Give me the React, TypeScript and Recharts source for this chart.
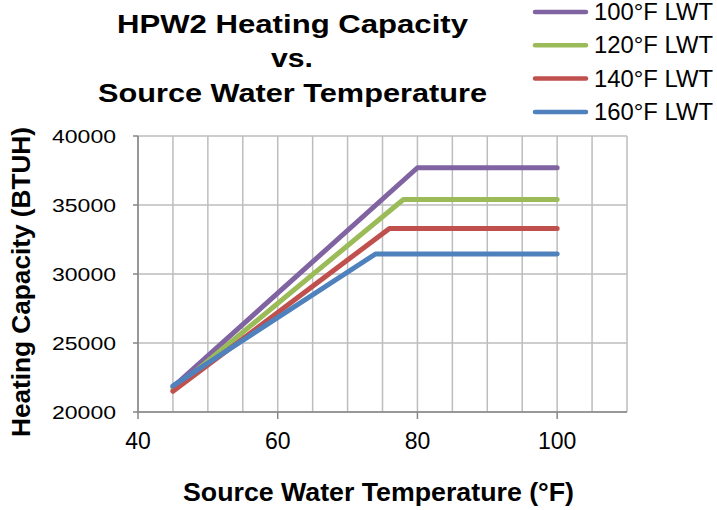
import React from 'react';
import { LineChart, Line, XAxis, YAxis, CartesianGrid } from 'recharts';

// series data
const seriesNames = ['100°F LWT', '120°F LWT', '140°F LWT', '160°F LWT'];
const seriesColors = ['#8064A2', '#9BBB59', '#C0504D', '#4F81BD'];

const temps100 = [45, 80, 100];
const btuh100 = [21800, 37700, 37700];
const temps120 = [45, 78, 100];
const btuh120 = [21600, 35400, 35400];
const temps140 = [45, 76, 100];
const btuh140 = [21500, 33300, 33300];
const temps160 = [45, 74, 100];
const btuh160 = [21900, 31450, 31450];

const xTicks = [40, 45, 50, 55, 60, 65, 70, 75, 80, 85, 90, 95, 100, 105, 110];
const xLabelTicks = [40, 60, 80, 100];
const yTicks = [20000, 25000, 30000, 35000, 40000];

const titleLines = ['HPW2 Heating Capacity', 'vs.', 'Source Water Temperature'];
const xTitle = 'Source Water Temperature (°F)';
const yTitle = 'Heating Capacity (BTUH)';

const toPoints = (xs: number[], ys: number[]) => xs.map((x, i) => ({ x, y: ys[i] }));

const series = [
  toPoints(temps100, btuh100),
  toPoints(temps120, btuh120),
  toPoints(temps140, btuh140),
  toPoints(temps160, btuh160),
];

const FONT = '"Liberation Sans", Arial, sans-serif';
const AXIS_GRAY = '#868686';

const XTick = (props: any) => {
  const { x, y, payload } = props;
  if (!xLabelTicks.includes(payload.value)) return null;
  return (
    <g>
      <line x1={x} x2={x} y1={y} y2={y + 7} stroke={AXIS_GRAY} strokeWidth={1.5} />
      <text x={x} y={y + 37} textAnchor="middle" fontSize={23} fontFamily={FONT} fill="#000">
        {payload.value}
      </text>
    </g>
  );
};

const YTick = (props: any) => {
  const { x, y, payload } = props;
  return (
    <g>
      <line x1={x - 5} x2={x} y1={y} y2={y} stroke={AXIS_GRAY} strokeWidth={1.5} />
      <text
        x={x - 86}
        y={y + 7}
        fontSize={19}
        fontFamily={FONT}
        fill="#000"
        textLength={64}
        lengthAdjust="spacingAndGlyphs"
      >
        {payload.value}
      </text>
    </g>
  );
};

export default function App() {
  return (
    <div style={{ position: 'absolute', left: 0, top: 0, width: 717, height: 510, background: '#fff' }}>
      <LineChart width={717} height={510} margin={{ top: 136, right: 90, bottom: 0, left: 0 }}>
        <CartesianGrid stroke="#bdbdbd" strokeWidth={1.5} />
        <XAxis
          type="number"
          dataKey="x"
          domain={[40, 110]}
          ticks={xTicks}
          interval={0}
          height={98}
          tickSize={0}
          tickMargin={0}
          tickLine={false}
          axisLine={{ stroke: AXIS_GRAY, strokeWidth: 1.5 }}
          tick={<XTick />}
        />
        <YAxis
          type="number"
          domain={[20000, 40000]}
          ticks={yTicks}
          interval={0}
          width={138}
          tickSize={0}
          tickMargin={0}
          tickLine={false}
          axisLine={{ stroke: AXIS_GRAY, strokeWidth: 1.5 }}
          tick={<YTick />}
        />
        {series.map((pts, i) => (
          <Line
            key={seriesNames[i]}
            name={seriesNames[i]}
            data={pts}
            dataKey="y"
            type="linear"
            stroke={seriesColors[i]}
            strokeWidth={5}
            strokeLinecap="round"
            strokeLinejoin="round"
            dot={false}
            activeDot={false}
            isAnimationActive={false}
          />
        ))}
      </LineChart>

      {/* title, axis titles and legend */}
      <svg
        width={717}
        height={510}
        style={{ position: 'absolute', left: 0, top: 0, pointerEvents: 'none' }}
        fontFamily={FONT}
      >
        <text x={117} y={33} fontSize={26} fontWeight="bold" textLength={351} lengthAdjust="spacingAndGlyphs">
          {titleLines[0]}
        </text>
        <text x={271} y={67} fontSize={26} fontWeight="bold" textLength={42} lengthAdjust="spacingAndGlyphs">
          {titleLines[1]}
        </text>
        <text x={98} y={102} fontSize={26} fontWeight="bold" textLength={389} lengthAdjust="spacingAndGlyphs">
          {titleLines[2]}
        </text>

        <text x={183} y={501} fontSize={26} fontWeight="bold" textLength={391} lengthAdjust="spacingAndGlyphs">
          {xTitle}
        </text>
        <text
          transform="translate(30,282) rotate(-90)"
          x={-155}
          y={0}
          fontSize={26}
          fontWeight="bold"
          textLength={310}
          lengthAdjust="spacingAndGlyphs"
        >
          {yTitle}
        </text>

        {seriesNames.map((name, i) => {
          const ly = 12 + i * 33.3;
          return (
            <g key={name}>
              <line x1={535} x2={586} y1={ly} y2={ly} stroke={seriesColors[i]} strokeWidth={4.5} strokeLinecap="round" />
              <text x={594} y={ly + 8} fontSize={23} textLength={119} lengthAdjust="spacingAndGlyphs">
                {name}
              </text>
            </g>
          );
        })}
      </svg>
    </div>
  );
}
